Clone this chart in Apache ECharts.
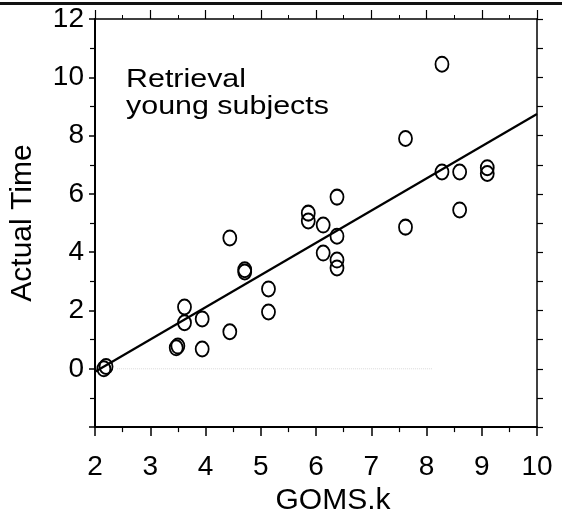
<!DOCTYPE html>
<html>
<head>
<meta charset="utf-8">
<script src="https://cdn.jsdelivr.net/npm/echarts@6/dist/echarts.min.js"></script>
<style>
html,body{margin:0;padding:0;background:#fff;}
#chart{width:562px;height:521px;}
</style>
</head>
<body>
<div id="chart"></div>
<script>
// Observed points (GOMS.k prediction, actual time)
var gomsK = [2.16, 2.20, 3.47, 3.50, 3.94, 3.62, 3.62, 3.94, 4.44, 4.44, 4.71, 4.71, 5.14, 5.14, 5.86, 5.86, 6.13, 6.13, 6.38, 6.38, 6.38, 6.38, 7.62, 7.62, 8.28, 8.28, 8.60, 8.60, 9.10, 9.10];
var actualTime = [0.00, 0.08, 0.72, 0.78, 0.68, 2.12, 1.58, 1.71, 1.27, 4.49, 3.40, 3.32, 2.74, 1.95, 5.34, 5.07, 4.93, 3.97, 5.89, 4.55, 3.73, 3.46, 7.90, 4.86, 10.45, 6.75, 6.75, 5.45, 6.90, 6.70];
// Fitted regression line end points
var fitX = [2, 10];
var fitY = [-0.1, 8.74];
// faint scan artifact line at zero
var artifactX = [2.4, 8.1];
var artifactY = [0, 0];
var xTicks = [2, 3, 4, 5, 6, 7, 8, 9, 10];
var yTicks = [0, 2, 4, 6, 8, 10, 12];
var annotation = ['Retrieval', 'young subjects'];
var xName = 'GOMS.k';
var yName = 'Actual Time';

var FONT = 'Liberation Sans, Arial, Helvetica, sans-serif';
var pts = gomsK.map(function (x, i) { return [x, actualTime[i]]; });
var fit = fitX.map(function (x, i) { return [x, fitY[i]]; });
var art = artifactX.map(function (x, i) { return [x, artifactY[i]]; });

var chart = echarts.init(document.getElementById('chart'));
chart.setOption({
  animation: false,
  backgroundColor: '#fff',
  grid: { left: 92, right: 25, top: 19, bottom: 93 },
  xAxis: [{
    type: 'value', min: 2, max: 10, interval: 1,
    name: xName, nameLocation: 'middle', nameGap: 56,
    nameTextStyle: { fontFamily: FONT, fontSize: 30, color: '#000', padding: [0, 0, 0, 34] },
    axisLine: { onZero: false, lineStyle: { color: '#000', width: 2 } },
    axisTick: { show: true, inside: false, length: 9, lineStyle: { color: '#000', width: 1.5 } },
    minorTick: { show: true, splitNumber: 2, length: 5, lineStyle: { color: '#000', width: 1.2 } },
    axisLabel: { fontFamily: FONT, fontSize: 28, color: '#000', margin: 26,
      formatter: function (v) { return xTicks.indexOf(v) >= 0 ? String(v) : ''; } },
    splitLine: { show: false }
  }, {
    type: 'value', min: 2, max: 10, interval: 1, position: 'top',
    axisLine: { onZero: false, lineStyle: { color: '#000', width: 1.5 } },
    axisTick: { show: true, inside: false, length: 9, lineStyle: { color: '#000', width: 1.2 } },
    minorTick: { show: true, splitNumber: 2, length: 4, lineStyle: { color: '#000', width: 1 } },
    axisLabel: { show: false },
    splitLine: { show: false }
  }],
  yAxis: [{
    type: 'value', min: -2, max: 12, interval: 2,
    name: yName, nameLocation: 'middle', nameGap: 57,
    nameTextStyle: { fontFamily: FONT, fontSize: 30, color: '#000' },
    axisLine: { onZero: false, lineStyle: { color: '#000', width: 2 } },
    axisTick: { show: true, inside: false, length: 6, lineStyle: { color: '#000', width: 1.5 } },
    minorTick: { show: true, splitNumber: 2, length: 5, lineStyle: { color: '#000', width: 1.2 } },
    axisLabel: { fontFamily: FONT, fontSize: 28, color: '#000', margin: 11,
      formatter: function (v) { return yTicks.indexOf(v) >= 0 ? String(v) : ''; } },
    splitLine: { show: false }
  }, {
    type: 'value', min: -2, max: 12, interval: 1, position: 'right',
    axisLine: { onZero: false, lineStyle: { color: '#000', width: 1.5 } },
    axisTick: { show: true, inside: false, length: 6, lineStyle: { color: '#000', width: 1.2 } },
    axisLabel: { show: false },
    splitLine: { show: false }
  }],
  graphic: [{
    type: 'rect', shape: { x: 0, y: 2, width: 562, height: 3 }, style: { fill: '#111' }, silent: true
  }, {
    type: 'text', left: 126, top: 66, scaleX: 1.17,
    style: { text: annotation.join('\n'), fontFamily: FONT, fontSize: 26, lineHeight: 27, fill: '#000' }
  }],
  series: [{
    type: 'line', data: art, xAxisIndex: 0, yAxisIndex: 0, symbol: 'none',
    lineStyle: { color: '#d8d8d8', width: 1, type: 'dotted' }, silent: true
  }, {
    type: 'line', data: fit, xAxisIndex: 0, yAxisIndex: 0, symbol: 'none',
    lineStyle: { color: '#000', width: 2.2 }, silent: true
  }, {
    type: 'scatter', data: pts, xAxisIndex: 0, yAxisIndex: 0,
    symbol: 'circle', symbolSize: [13, 15],
    itemStyle: { color: 'rgba(0,0,0,0)', borderColor: '#000', borderWidth: 1.9, opacity: 1 }
  }]
});
</script>
</body>
</html>
